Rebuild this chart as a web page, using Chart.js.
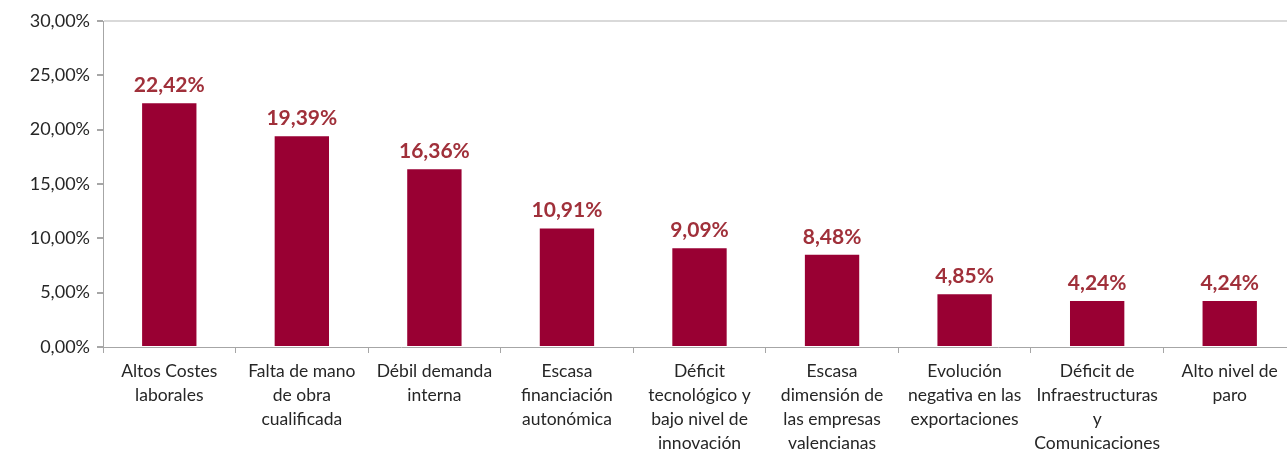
<!DOCTYPE html>
<html>
<head>
<meta charset="utf-8">
<script src="https://cdn.jsdelivr.net/npm/chart.js@4"></script>
<style>
    html, body { margin: 0; padding: 0; background: #fff; overflow: hidden; }
    #wrap { width: 1296px; height: 452px; }
</style>
</head>
<body>
<div id="wrap"><canvas id="barChart"></canvas></div>
<script>
// Chart data
const categories = [
    ['Altos Costes', 'laborales'],
    ['Falta de mano', 'de obra', 'cualificada'],
    ['Débil demanda', 'interna'],
    ['Escasa', 'financiación', 'autonómica'],
    ['Déficit', 'tecnológico y', 'bajo nivel de', 'innovación'],
    ['Escasa', 'dimensión de', 'las empresas', 'valencianas'],
    ['Evolución', 'negativa en las', 'exportaciones'],
    ['Déficit de', 'Infraestructuras', 'y', 'Comunicaciones'],
    ['Alto nivel de', 'paro']
];
const percentages = [22.42, 19.39, 16.36, 10.91, 9.09, 8.48, 4.85, 4.24, 4.24];
const yTicks = [0, 5, 10, 15, 20, 25, 30];

const fontFamily = 'Lato, "Open Sans", sans-serif';

function formatPct(v) {
    return v.toFixed(2).replace('.', ',') + '%';
}

// Value labels above the bars
const valueLabels = {
    id: 'valueLabels',
    afterDatasetsDraw(chart) {
        const ctx = chart.ctx;
        const meta = chart.getDatasetMeta(0);
        ctx.save();
        ctx.font = 'bold 21px ' + fontFamily;
        ctx.fillStyle = '#A0303A';
        ctx.textAlign = 'center';
        ctx.textBaseline = 'alphabetic';
        meta.data.forEach((bar, i) => {
            ctx.fillText(formatPct(percentages[i]), bar.x, bar.y - 11);
        });
        ctx.restore();
    }
};

const ctx = document.getElementById('barChart').getContext('2d');

new Chart(ctx, {
    type: 'bar',
    data: {
        labels: categories,
        datasets: [{
            data: percentages,
            backgroundColor: '#990033',
            borderWidth: 0,
            barPercentage: 0.41,
            categoryPercentage: 1
        }]
    },
    options: {
        responsive: true,
        maintainAspectRatio: false,
        animation: false,
        layout: { padding: { top: 21, right: 0, left: 0, bottom: 0 } },
        plugins: {
            legend: { display: false },
            tooltip: { enabled: false }
        },
        scales: {
            x: {
                grid: {
                    offset: true,
                    drawOnChartArea: false,
                    tickLength: 6,
                    tickColor: '#a6a6a6'
                },
                border: { color: '#a6a6a6', width: 1 },
                ticks: {
                    autoSkip: false,
                    maxRotation: 0,
                    padding: 6,
                    color: '#262626',
                    font: { family: fontFamily, size: 17.5, lineHeight: 1.37 }
                },
                afterFit(scale) { scale.height = 105; }
            },
            y: {
                min: 0,
                max: 30,
                afterBuildTicks(scale) {
                    scale.ticks = yTicks.map(v => ({ value: v }));
                },
                grid: {
                    color: c => c.tick && c.tick.value === 30 ? '#d9d9d9' : 'rgba(0,0,0,0)',
                    lineWidth: 2,
                    tickLength: 6,
                    tickColor: '#a6a6a6'
                },
                border: { color: '#a6a6a6', width: 1 },
                ticks: {
                    padding: 7,
                    color: '#262626',
                    font: { family: fontFamily, size: 18 },
                    callback: v => formatPct(v)
                },
                afterFit(scale) { scale.width = 103; }
            }
        }
    },
    plugins: [valueLabels]
});
</script>
</body>
</html>
